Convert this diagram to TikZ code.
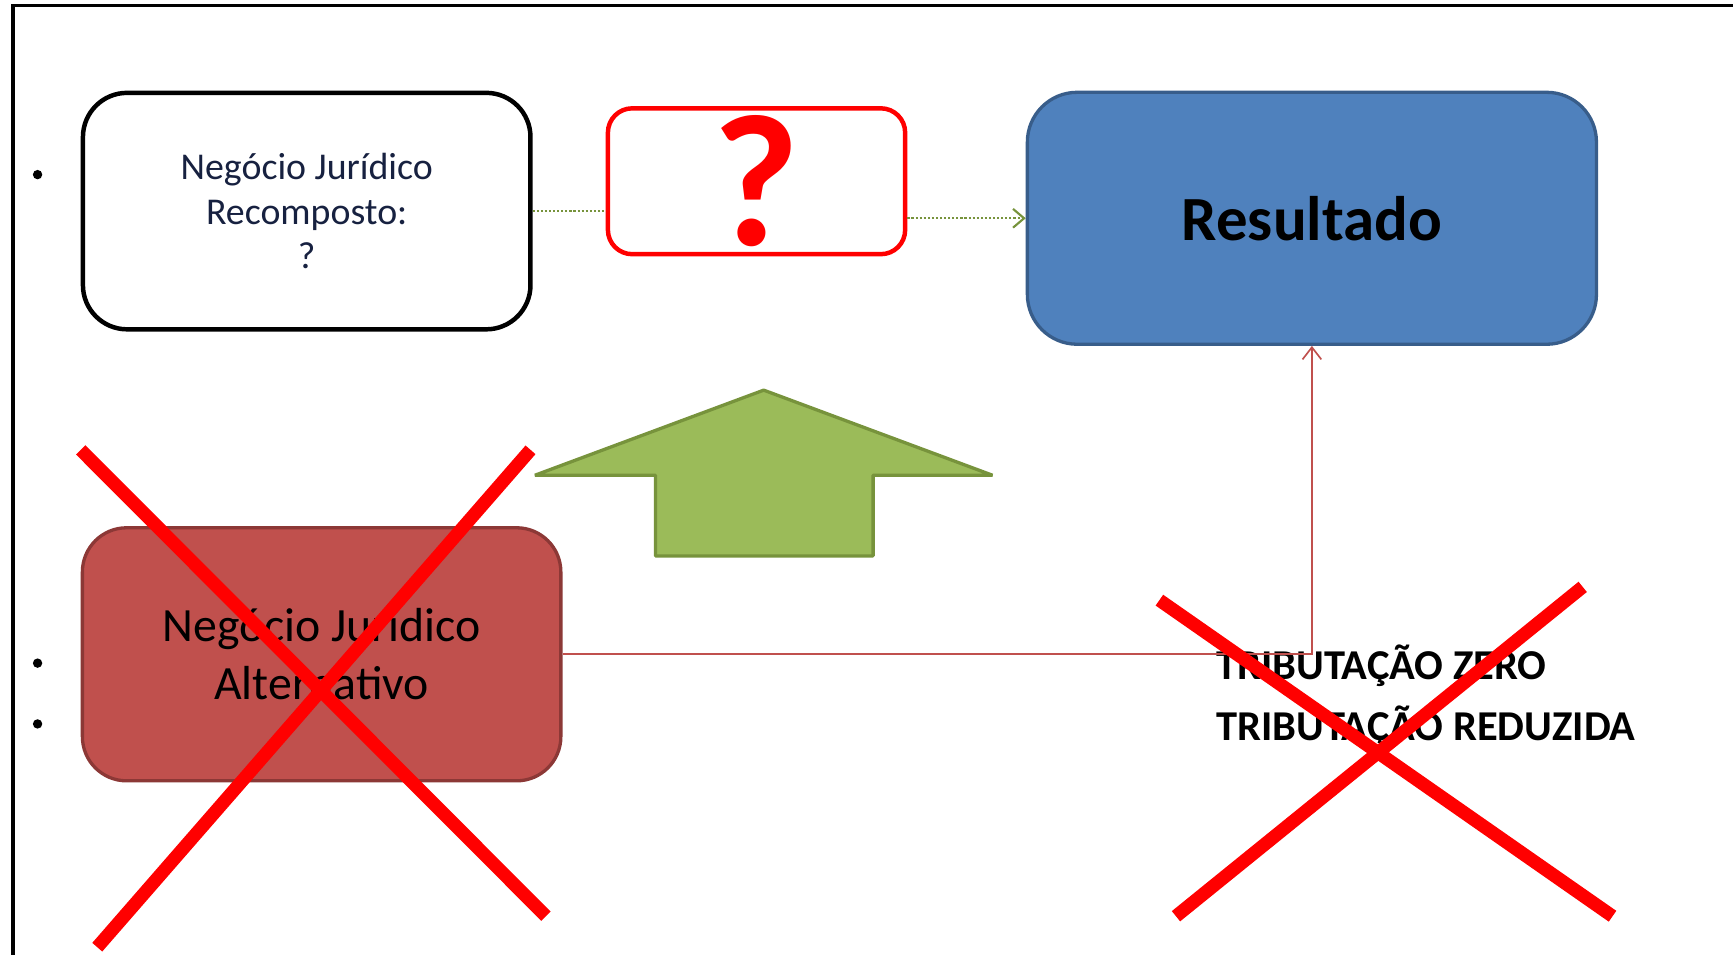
\documentclass[tikz,border=0pt]{standalone}
\usepackage{fontspec}
\setmainfont{Carlito}
\usepackage{xcolor}
\usepackage{tikz}
\usetikzlibrary{arrows.meta,positioning}

\definecolor{blueFill}{RGB}{79,129,189}
\definecolor{blueLine}{RGB}{56,93,138}
\definecolor{redFill}{RGB}{192,80,77}
\definecolor{redLine}{RGB}{140,56,54}
\definecolor{greenFill}{RGB}{155,187,89}
\definecolor{greenLine}{RGB}{119,147,60}
\definecolor{navyText}{RGB}{23,33,64}

\begin{document}
\begin{tikzpicture}[
    x=0.02cm, y=-0.02cm,
    recompbox/.style={rectangle, draw, line width=2.3pt, rounded corners=0.8cm, minimum width=8.1cm, minimum height=4.28cm, align=center, text=navyText, font=\fontsize{19.5}{22.8}\selectfont},
    doubtbox/.style={rectangle, draw=red, line width=2.3pt, rounded corners=0.44cm, minimum width=5.38cm, minimum height=2.64cm, inner sep=0pt, text=red, font=\fontsize{97}{97}\selectfont\bfseries},
    resultbox/.style={rectangle, draw=blueLine, fill=blueFill, line width=1.7pt, rounded corners=0.9cm, minimum width=10.3cm, minimum height=4.56cm, align=center, font=\fontsize{32.4}{36}\selectfont\bfseries},
    altbox/.style={rectangle, draw=redLine, fill=redFill, line width=1.7pt, rounded corners=0.8cm, minimum width=8.66cm, minimum height=4.58cm, align=center, font=\fontsize{24.6}{29.6}\selectfont},
    tribtext/.style={inner sep=0pt, align=left, font=\fontsize{21.9}{31.3}\selectfont\bfseries},
    cross/.style={draw=red, line width=6.8pt},
    dotlink/.style={draw=greenLine, line width=1.1pt, densely dotted},
    redlink/.style={draw=redFill, line width=0.85pt}
]

\useasboundingbox (0,0) rectangle (1568,864);
\draw[line width=2pt] (1568,5) -- (12,5) -- (12,864);

\node[recompbox] (recomp) at (277.5,191) {Negócio Jurídico\\Recomposto:\\?};
\node[doubtbox] (doubt) at (684.5,164) {?};
\node[resultbox] (result) at (1187,197.5) {Resultado};
\node[altbox] (altern) at (291,592) {Negócio Jurídico\\Alternativo};
\node[tribtext, anchor=west] (trib) at (1100,630) {TRIBUTAÇÃO ZERO\\TRIBUTAÇÃO REDUZIDA};

\foreach \y in {158,600,655}
    \fill (34,\y) circle[radius=0.085cm];

\draw[dotlink] (recomp.east) -- (recomp.east -| doubt.west);
\draw[dotlink, -{Straight Barb[length=2mm,width=3.4mm]}] (doubt.east |- result.west) -- (result.west);
\draw[redlink, -{Straight Barb[length=2.2mm,width=3.4mm]}] (altern.east) -| (result.south);

\draw[draw=greenLine, fill=greenFill, line width=1.7pt, line join=bevel]
    (484,430) -- (691,353) -- (898,430) -- (790,430) -- (790,503)
    -- (593,503) -- (593,430) -- cycle;

\draw[cross] (73,407) -- (494,829);
\draw[cross] (480,407) -- (88,857);
\draw[cross] (1049,543) -- (1459,829);
\draw[cross] (1432,531) -- (1064,829);

\end{tikzpicture}
\end{document}
